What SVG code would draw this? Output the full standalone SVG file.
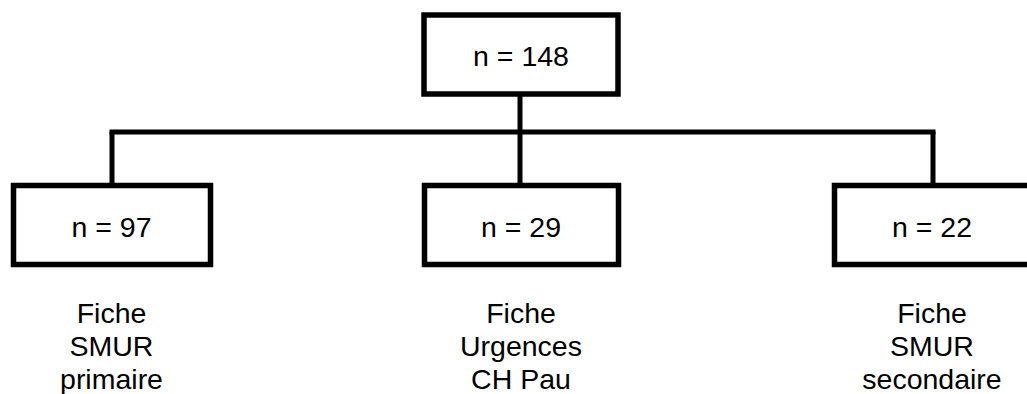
<svg xmlns="http://www.w3.org/2000/svg" width="1027" height="394" viewBox="0 0 1027 394">
<style>
.box{fill:#fff;stroke:#000;stroke-width:5.5}
.ln{stroke:#000;stroke-width:5;fill:none;stroke-linecap:butt}
.t{font-family:"Liberation Sans",Arial,sans-serif;font-size:28.5px;fill:#000;text-anchor:middle}
</style>
<rect width="1027" height="394" fill="#fff"/>
<g id="connectors">
<path class="ln" d="M520,96 V186"/>
<path class="ln" d="M109.5,132 H935.5"/>
<path class="ln" d="M112,132 V186"/>
<path class="ln" d="M933,132 V186"/>
</g>
<g id="n148">
<rect class="box" x="424" y="15" width="194" height="79"/>
<text class="t" x="521" y="66">n = 148</text>
</g>
<g id="n97">
<rect class="box" x="13.5" y="185.5" width="197" height="79"/>
<text class="t" x="111.5" y="236.5">n = 97</text>
</g>
<g id="n29">
<rect class="box" x="424.5" y="185.5" width="194" height="79"/>
<text class="t" x="521" y="236.5">n = 29</text>
</g>
<g id="n22">
<rect class="box" x="834.5" y="185.5" width="200" height="79"/>
<text class="t" x="932" y="236.5">n = 22</text>
</g>
<g id="label-primaire">
<text class="t" x="111.5" y="322.5">Fiche</text>
<text class="t" x="111.5" y="356">SMUR</text>
<text class="t" x="111.5" y="389">primaire</text>
</g>
<g id="label-urgences">
<text class="t" x="521" y="322.5">Fiche</text>
<text class="t" x="521" y="356">Urgences</text>
<text class="t" x="521" y="389">CH Pau</text>
</g>
<g id="label-secondaire">
<text class="t" x="932" y="322.5">Fiche</text>
<text class="t" x="932" y="356">SMUR</text>
<text class="t" x="932" y="389">secondaire</text>
</g>
</svg>
